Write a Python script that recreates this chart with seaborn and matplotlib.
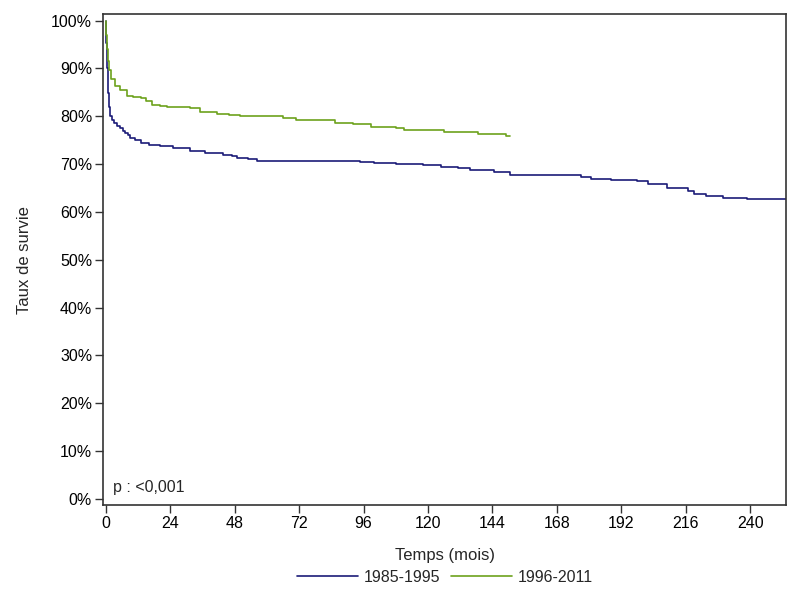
import matplotlib

matplotlib.use("Agg")
import matplotlib.pyplot as plt  # noqa: E402
import pandas as pd  # noqa: E402
import seaborn as sns  # noqa: E402

# ---- data (Kaplan-Meier steps, months / % survival) ----
t_8595 = [0, 0.1, 0.4, 0.7, 1.2, 1.7, 2.3, 2.9, 4.0, 5.4, 6.3, 7.3, 8.2, 9.1, 11, 12.9,
          16, 20.3, 25, 31.5, 37, 43.8, 47, 48.9, 53, 56.4, 68.8, 80, 94.8, 100, 108,
          118, 124.7, 131, 135.8, 144.4, 150.7, 176.9, 180.6, 188, 198, 202, 209,
          216.7, 219, 223.5, 229.8, 239, 253.5]
s_8595 = [100, 95.3, 90.0, 84.9, 82.0, 80.0, 79.2, 78.6, 78.0, 77.5, 77.0, 76.5, 76.0,
          75.5, 75.0, 74.5, 74.1, 73.7, 73.3, 72.7, 72.4, 72.0, 71.6, 71.3, 71.0, 70.7,
          70.7, 70.6, 70.5, 70.3, 70.1, 69.9, 69.4, 69.1, 68.8, 68.3, 67.8, 67.3, 66.9,
          66.7, 66.4, 65.9, 65.0, 64.3, 63.7, 63.4, 63.0, 62.7, 62.7]

t_9611 = [0, 0.2, 0.4, 0.7, 1.1, 2.0, 3.5, 5.4, 7.9, 10, 12.9, 15, 17.2, 20, 22.8, 31.5,
          35.2, 41.4, 46, 50, 63.8, 66, 71, 85.5, 92, 98.6, 108, 111, 126, 138.5, 149,
          150.5]
s_9611 = [100, 97.0, 94.0, 91.5, 89.7, 87.7, 86.3, 85.4, 84.3, 84.0, 83.8, 83.2, 82.4,
          82.1, 81.9, 81.7, 81.0, 80.5, 80.2, 80.0, 80.0, 79.6, 79.3, 78.6, 78.3, 77.8,
          77.5, 77.2, 76.7, 76.4, 75.9, 75.9]

groups = ["1985-1995", "1996-2011"]
colors = ["#1b1b78", "#6da21c"]
x_ticks = list(range(0, 241, 24))
y_ticks = list(range(0, 101, 10))

df = pd.concat([
    pd.DataFrame({"t": t_8595, "s": s_8595, "g": groups[0]}),
    pd.DataFrame({"t": t_9611, "s": s_9611, "g": groups[1]}),
])

sns.set_theme(style="white")
plt.rcParams["font.family"] = ["Liberation Sans", "DejaVu Sans"]

fig = plt.figure(figsize=(8, 6), dpi=100)
ax = fig.add_axes([0.129, 0.158, 0.854, 0.818])

sns.lineplot(data=df, x="t", y="s", hue="g", palette=colors, estimator=None,
             drawstyle="steps-post", linewidth=1.2, ax=ax, legend=True, sort=False)

ax.set_xlim(-1, 253.5)
ax.set_ylim(-1.3, 101.3)
ax.set_xticks(x_ticks)
ax.set_xticklabels([str(v) for v in x_ticks])
ax.set_yticks(y_ticks)
ax.set_yticklabels([f"{v}%" for v in y_ticks])
ax.tick_params(axis="both", direction="out", length=6, width=1, color="#333333",
               labelsize=11.5, labelcolor="black", bottom=True, left=True, pad=2)
for sp in ax.spines.values():
    sp.set_color("#333333")
    sp.set_linewidth(1.2)

ax.set_xlabel("Temps (mois)", fontsize=12, labelpad=12)
ax.set_ylabel("Taux de survie", fontsize=12, labelpad=14)
ax.text(0.015, 0.02, "p : <0,001", transform=ax.transAxes, fontsize=11.5, va="bottom")

ax.legend(loc="center", bbox_to_anchor=(0.5, -0.147), ncol=2, frameon=False,
          fontsize=11.5, handlelength=3.8, columnspacing=0.7, handletextpad=0.35, title=None)

fig.savefig("out.png", dpi=100)
